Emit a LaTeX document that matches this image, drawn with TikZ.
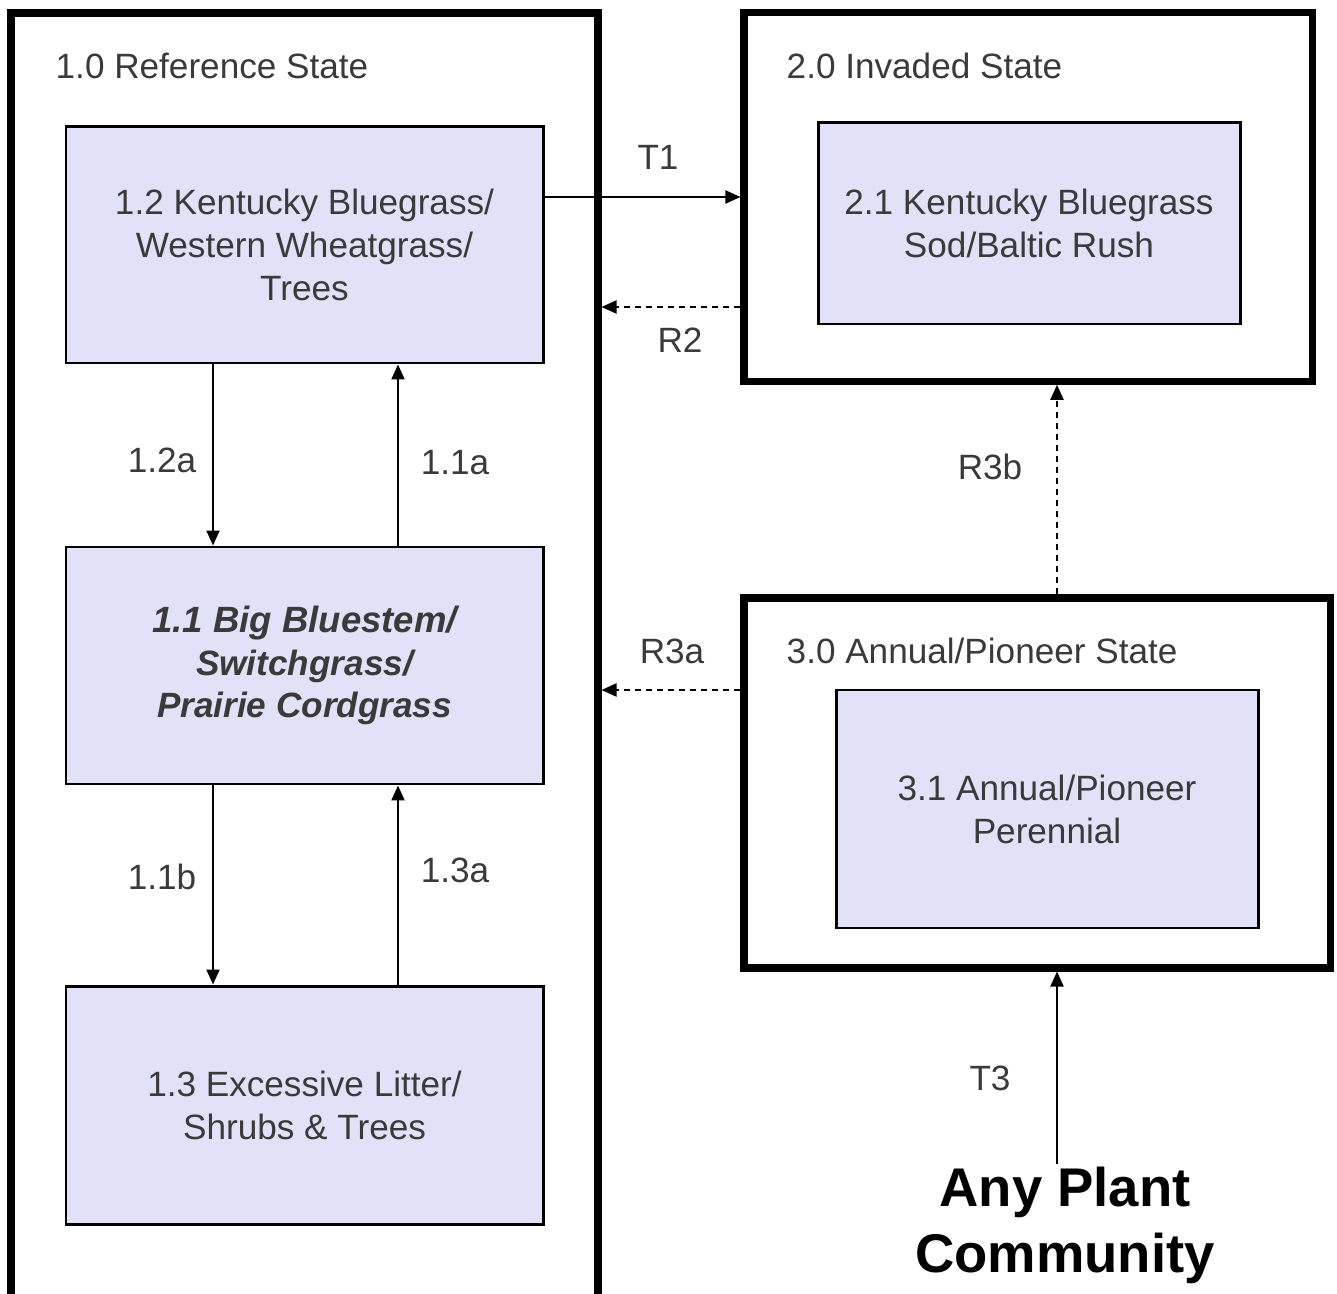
\documentclass[tikz,border=0pt]{standalone}
\usepackage{fontspec}
\setmainfont{Liberation Sans}
\usetikzlibrary{arrows.meta, positioning}
\definecolor{boxfill}{HTML}{E1E1F7}
\definecolor{labeltext}{HTML}{3A3A3A}

\begin{document}
\begin{tikzpicture}[
      statebox/.style={rectangle, draw=black, line width=2pt, minimum width=#1},
      phase/.style={rectangle, draw=black, line width=0.85pt, fill=boxfill, text=labeltext, minimum width=#1, align=center, font=\fontsize{10}{12.2}\selectfont},
      title/.style={anchor=west, text=labeltext, font=\fontsize{10}{12.2}\selectfont, inner sep=0pt},
      lbl/.style={text=labeltext, font=\fontsize{10}{12.2}\selectfont, inner sep=0pt},
      arrow/.style={-{Triangle[length=1.5mm, width=1.3mm]}, line width=0.6pt, black},
      back/.style={arrow, dash pattern=on 0.65mm off 0.45mm},
    ]
    \useasboundingbox (0,0) rectangle (13.37,-12.94);

    % states
    \node[statebox=5.87cm, minimum height=13.07cm] (st1) at (3.045,-6.665) {};
    \node[statebox=5.68cm, minimum height=3.685cm] (st2) at (10.28,-1.97) {};
    \node[statebox=5.86cm, minimum height=3.70cm] (st3) at (10.37,-7.83) {};

    \node[title] (t1) at (0.55,-0.66) {1.0 Reference State};
    \node[title] (t2) at (7.86,-0.66) {2.0 Invaded State};
    \node[title] (t3) at (7.86,-6.51) {3.0 Annual/Pioneer State};

    % community phases
    \node[phase=4.77cm, minimum height=2.36cm] (s12) at (3.045,-2.45) {1.2 Kentucky Bluegrass/\\Western Wheatgrass/\\Trees};
    \node[phase=4.77cm, minimum height=2.37cm] (s11) at (3.045,-6.655) {\fontsize{10.4}{12.2}\selectfont\bfseries\itshape 1.1 Big Bluestem/\\\bfseries\itshape Switchgrass/\\\bfseries\itshape Prairie Cordgrass};
    \node[phase=4.77cm, minimum height=2.38cm] (s13) at (3.045,-11.05) {1.3 Excessive Litter/\\Shrubs \& Trees};
    \node[phase=4.22cm, minimum height=2.01cm] (s21) at (10.29,-2.235) {2.1 Kentucky Bluegrass\\Sod/Baltic Rush};
    \node[phase=4.22cm, minimum height=2.38cm] (s31) at (10.47,-8.09) {3.1 Annual/Pioneer\\Perennial};

    \node[align=center, font=\fontsize{15.5}{18.8}\selectfont\bfseries] (apc) at (10.65,-12.25) {Any Plant\\Community};

    % helper lines
    \coordinate (xa) at (2.13,0);
    \coordinate (xb) at (3.98,0);
    \coordinate (xr) at (10.57,0);
    \coordinate (yt1) at (0,-1.97);
    \coordinate (yr2) at (0,-3.07);
    \coordinate (yr3) at (0,-6.90);

    \draw[arrow] (s12.south -| xa) -- (s11.north -| xa);
    \draw[arrow] (s11.north -| xb) -- (s12.south -| xb);
    \draw[arrow] (s11.south -| xa) -- (s13.north -| xa);
    \draw[arrow] (s13.north -| xb) -- (s11.south -| xb);

    \draw[arrow] (s12.east |- yt1) -- (st2.west |- yt1);
    \draw[back] (st2.west |- yr2) -- (st1.east |- yr2);
    \draw[back] (st3.west |- yr3) -- (st1.east |- yr3);
    \draw[back] (st3.north -| xr) -- (st2.south -| xr);
    \draw[arrow] ([yshift=-0.1cm]apc.north -| xr) -- (st3.south -| xr);

    \node[lbl] (l12a) at (1.62,-4.60) {1.2a};
    \node[lbl] (l11a) at (4.55,-4.63) {1.1a};
    \node[lbl] (l11b) at (1.62,-8.77) {1.1b};
    \node[lbl] (l13a) at (4.55,-8.70) {1.3a};
    \node[lbl] (lt1) at (6.58,-1.57) {T1};
    \node[lbl] (lr2) at (6.80,-3.40) {R2};
    \node[lbl] (lr3a) at (6.72,-6.51) {R3a};
    \node[lbl] (lr3b) at (9.90,-4.67) {R3b};
    \node[lbl] (lt3) at (9.90,-10.78) {T3};
  \end{tikzpicture}
\end{document}
